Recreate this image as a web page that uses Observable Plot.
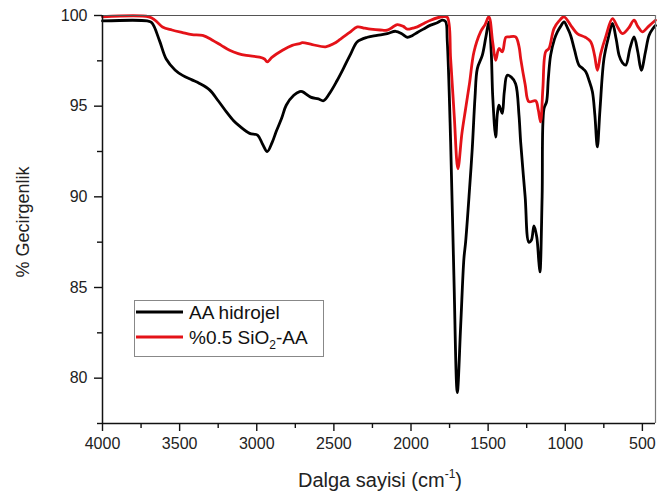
<!DOCTYPE html>
<html><head><meta charset="utf-8">
<script src="https://cdn.jsdelivr.net/npm/d3@7"></script>
<script src="https://cdn.jsdelivr.net/npm/@observablehq/plot@0.6"></script>
<style>body{margin:0;background:#fff} #chart{width:657px;height:498px}</style>
</head><body><div id="chart"></div>
<script>
// AA hidrojel (black)
const aaWavenumber = [4000,3710,3680,3630,3587,3530,3481,3420,3371,3306,3250,3198,3150,3111,3046,2995,2962,2932,2900,2874,2840,2809,2760,2722,2705,2651,2600,2567,2521,2480,2437,2390,2348,2283,2220,2154,2100,2060,2024,1990,1959,1920,1873,1830,1797,1776,1765,1743,1722,1700,1678,1657,1646,1620,1603,1585,1570,1538,1515,1495,1480,1470,1451,1440,1430,1418,1408,1395,1376,1350,1322,1300,1289,1260,1236,1220,1203,1185,1171,1164,1150,1138,1121,1110,1095,1070,1051,1030,1008,985,965,940,911,890,867,845,824,808,792,775,749,720,694,670,651,630,608,580,554,530,507,480,457,430,415];
const aaTransmittance = [99.7,99.7,99.6,98.6,97.6,97.0,96.7,96.45,96.25,95.9,95.3,94.7,94.2,93.9,93.5,93.4,92.9,92.5,93.0,93.6,94.3,95.05,95.6,95.8,95.8,95.5,95.4,95.3,95.8,96.4,97.1,97.9,98.55,98.8,98.9,99.0,99.13,99.0,98.8,98.9,99.06,99.25,99.47,99.6,99.74,99.67,98.6,93.0,85.65,79.2,82.9,86.6,87.5,90.5,92.65,95.5,97.07,97.8,98.8,99.65,98.0,95.5,93.3,94.6,95.05,94.8,94.6,95.8,96.7,96.6,96.24,94.5,93.0,90.0,87.5,87.6,88.4,87.8,86.4,85.86,90.0,94.86,95.25,96.5,97.8,98.7,99.1,99.4,99.65,99.3,98.9,98.1,97.26,97.1,96.9,96.4,95.8,94.5,92.75,94.8,97.62,98.8,99.56,98.7,97.8,97.4,97.26,98.2,98.82,98.0,96.98,98.0,98.9,99.3,99.45];

// %0.5 SiO2-AA (red)
const sioWavenumber = [4000,3700,3660,3611,3550,3481,3420,3351,3287,3230,3176,3120,3068,2982,2950,2932,2900,2833,2770,2722,2705,2640,2554,2500,2457,2400,2348,2300,2262,2200,2154,2120,2089,2050,2024,1990,1959,1920,1873,1797,1765,1743,1720,1696,1670,1646,1620,1592,1549,1520,1495,1470,1451,1430,1408,1385,1365,1322,1300,1289,1260,1236,1192,1175,1160,1145,1127,1106,1073,1040,1008,960,922,870,835,810,792,770,738,694,660,630,590,554,530,500,460,415];
const sioTransmittance = [99.93,99.93,99.75,99.37,99.2,99.06,98.95,98.9,98.64,98.35,98.08,97.9,97.8,97.7,97.6,97.44,97.7,98.08,98.35,98.45,98.5,98.4,98.27,98.45,98.7,99.05,99.37,99.3,99.25,99.2,99.19,99.35,99.5,99.4,99.25,99.3,99.37,99.55,99.74,99.93,99.9,97.6,94.5,91.55,93.5,94.86,96.3,97.99,99.1,99.5,99.93,98.5,97.53,98.18,98.0,98.8,98.82,98.82,98.3,97.62,96.2,95.25,95.3,94.8,94.13,96.0,98.0,98.18,99.28,99.7,99.93,99.4,99.0,98.8,98.55,97.8,96.98,97.9,98.82,99.83,99.35,99.0,99.3,99.74,99.4,99.1,99.4,99.74];

const xTicks = [4000,3500,3000,2500,2000,1500,1000,500];
const xMinorTicks = [3750,3250,2750,2250,1750,1250,750];
const yTicks = [80,85,90,95,100];
const yMinorTicks = [77.5,82.5,87.5,92.5,97.5];
const seriesNames = ["AA hidrojel", "%0.5 SiO"];
const seriesColors = ["#000000", "#e41218"];
const xDomain = [4000, 415];
const yDomain = [77.5, 100];

const aa = aaWavenumber.map((w, i) => ({w, t: aaTransmittance[i]}));
const sio = sioWavenumber.map((w, i) => ({w, t: sioTransmittance[i]}));

const font = "'Liberation Sans', Arial, sans-serif";
const svg = Plot.plot({
  width: 657, height: 498,
  marginLeft: 102, marginRight: 2, marginTop: 15, marginBottom: 75,
  style: {fontFamily: font, fontSize: "16px", color: "#222", background: "#fff", overflow: "visible"},
  x: {domain: xDomain, label: null},
  y: {domain: yDomain, label: null},
  marks: [
    Plot.line(aa, {x: "w", y: "t", stroke: seriesColors[0], strokeWidth: 2.8, curve: "catmull-rom"}),
    Plot.line(sio, {x: "w", y: "t", stroke: seriesColors[1], strokeWidth: 2.8, curve: "catmull-rom"}),
    Plot.ruleY([yDomain[1]], {stroke: "#555", strokeWidth: 1.2}),
    Plot.ruleX([xDomain[1]], {stroke: "#777", strokeWidth: 1.2}),
    Plot.ruleX([xDomain[0]], {stroke: "#111", strokeWidth: 1.5}),
    Plot.ruleY([yDomain[0]], {stroke: "#111", strokeWidth: 1.5}),
    Plot.axisX({ticks: xTicks, tickFormat: d => String(d), tickSize: 8, tickPadding: 6, fontSize: 16, stroke: "#111", strokeWidth: 1.4}),
    Plot.axisX({ticks: xMinorTicks, tickSize: 5, text: null, stroke: "#111", strokeWidth: 1.4}),
    Plot.axisY({ticks: yTicks, tickFormat: d => String(d), tickSize: 8, tickPadding: 7, fontSize: 16, label: null, stroke: "#111", strokeWidth: 1.4}),
    Plot.axisY({ticks: yMinorTicks, tickSize: 5, text: null, label: null, stroke: "#111", strokeWidth: 1.4})
  ]
});
document.getElementById("chart").appendChild(svg);

const s = d3.select(svg);
// y axis title
s.append("text")
  .attr("transform", "translate(29,222) rotate(-90)")
  .attr("text-anchor", "middle")
  .attr("font-family", font).attr("font-size", 18).attr("fill", "#222")
  .text("% Gecirgenlik");
// x axis title with superscript
const xt = s.append("text")
  .attr("x", 380).attr("y", 487)
  .attr("text-anchor", "middle")
  .attr("font-family", font).attr("font-size", 20).attr("fill", "#222");
xt.append("tspan").text("Dalga sayisi (cm");
xt.append("tspan").attr("font-size", 12).attr("dy", -9).text("-1");
xt.append("tspan").attr("dy", 9).text(")");

// legend
const lg = s.append("g").attr("font-family", font).attr("font-size", 19).attr("fill", "#111").attr("text-anchor", "start");
lg.append("rect").attr("x", 134.5).attr("y", 300.5).attr("width", 189).attr("height", 56)
  .attr("fill", "#fff").attr("stroke", "#888").attr("stroke-width", 1);
const rows = [312, 337];
seriesNames.forEach((name, i) => {
  lg.append("line").attr("x1", 136).attr("x2", 183).attr("y1", rows[i]).attr("y2", rows[i])
    .attr("stroke", seriesColors[i]).attr("stroke-width", 3);
  const t = lg.append("text").attr("x", 189).attr("y", rows[i] + 7).attr("text-anchor", "start");
  t.append("tspan").text(name);
  if (i === 1) {
    t.append("tspan").attr("font-size", 12).attr("dy", 5).text("2");
    t.append("tspan").attr("dy", -5).text("-AA");
  }
});
</script>
</body></html>
